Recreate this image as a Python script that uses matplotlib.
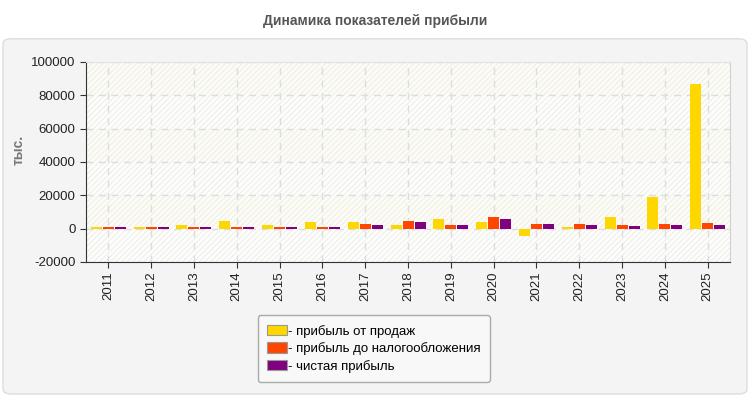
import numpy as np
import matplotlib.pyplot as plt
from matplotlib.patches import FancyBboxPatch

plt.rcParams['font.family'] = ['Liberation Sans', 'DejaVu Sans']

# data (тыс.)
years = ['2011', '2012', '2013', '2014', '2015', '2016', '2017', '2018',
         '2019', '2020', '2021', '2022', '2023', '2024', '2025']
sales_profit = [1200, 1200, 2000, 4400, 2000, 3800, 3800, 2000,
                5600, 3800, -4200, 800, 6800, 18800, 87000]
pretax_profit = [1200, 1200, 1200, 1200, 1200, 1200, 2600, 4400,
                 2000, 6800, 2600, 2600, 2000, 2600, 3200]
net_profit = [1200, 1200, 1200, 1200, 1200, 1200, 2000, 3800,
              2000, 5600, 2600, 2000, 1400, 2000, 2000]

labels = ['- прибыль от продаж', '- прибыль до налогообложения', '- чистая прибыль']
colors = ['#FFD700', '#FF4500', '#800080']

fig = plt.figure(figsize=(7.5, 4), dpi=100)
fig.patch.set_facecolor('white')

# rounded panel behind the chart
panel = FancyBboxPatch((0.004, 0.015), 0.992, 0.888,
                       boxstyle='round,pad=0,rounding_size=0.012',
                       transform=fig.transFigure, facecolor='#f4f4f4',
                       edgecolor='#dddddd', linewidth=1, zorder=-5)
fig.patches.append(panel)

fig.text(0.5, 0.948, 'Динамика показателей прибыли', ha='center', va='center',
         fontsize=10, fontweight='bold', color='#555555')

ax = fig.add_axes([0.1147, 0.345, 0.8587, 0.5])
ax.set_zorder(2)
ax.set_facecolor('white')

x = np.arange(len(years))
w = 0.256
step = 0.28
for i, (vals, c) in enumerate(zip([sales_profit, pretax_profit, net_profit], colors)):
    ax.bar(x + (i - 1) * step, vals, width=w, color=c, zorder=3, label=labels[i])

ax.set_xlim(-0.52, len(years) - 0.48)
ax.set_ylim(-20000, 100000)
ax.set_yticks(range(-20000, 100001, 20000))
ax.set_yticklabels([str(v) for v in range(-20000, 100001, 20000)])

# light bands with hatching
for k, lo in enumerate(range(-20000, 100000, 20000)):
    fc = '#fdfdf3' if k % 2 == 1 else '#fefefb'
    ax.axhspan(lo, lo + 20000, facecolor=fc, edgecolor='#f0f0f0',
               hatch='//////', linewidth=0, zorder=0)

ax.set_xticks(x)
ax.set_xticklabels(years, rotation=90, fontsize=9.5, color='#222222')
ax.tick_params(axis='x', length=4, pad=3, colors='#333333', labelcolor='#222222')
ax.tick_params(axis='y', length=4, labelsize=9.5, colors='#333333', labelcolor='#222222',
               direction='out')

ax.grid(True, linestyle=(0, (5, 4)), color='#dddddd', linewidth=1, zorder=1)

ax.spines['left'].set_color('#333333')
ax.spines['bottom'].set_color('#333333')
ax.spines['top'].set_color('#e2e2e2')
ax.spines['right'].set_color('#d0d0d0')

fig.text(0.025, 0.625, 'тыс.', rotation=90, ha='center', va='center',
         fontsize=10, fontweight='bold', color='#777777')

handles, _ = ax.get_legend_handles_labels()
leg = fig.legend(handles, labels, loc='upper left', bbox_to_anchor=(0.335, 0.228),
                 bbox_transform=fig.transFigure,
                 frameon=True, fontsize=9.5, handlelength=1.5, handleheight=0.8,
                 handletextpad=0.1, borderpad=0.7, labelspacing=0.35,
                 fancybox=True, edgecolor='#aaaaaa', facecolor='#f8f8f8')
for p in leg.get_patches():
    p.set_edgecolor('#999999')
    p.set_linewidth(0.8)
leg.get_frame().set_alpha(1)

fig.savefig('out.png', dpi=100)
